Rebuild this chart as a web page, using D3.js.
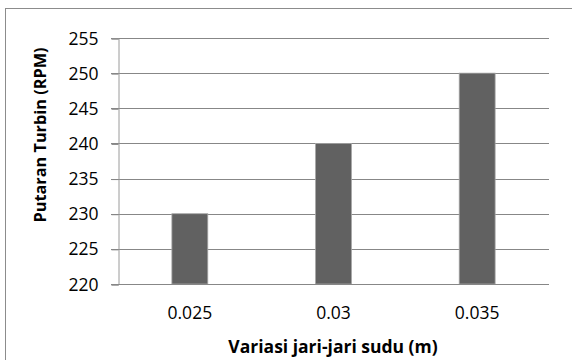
<!DOCTYPE html>
<html><head><meta charset="utf-8">
<script src="https://cdn.jsdelivr.net/npm/d3@7"></script>
<style>
html,body{margin:0;padding:0;background:#fff;}
svg{display:block;}
text{font-family:"Open Sans",sans-serif;fill:#000;}
</style></head>
<body>
<svg id="c" width="572" height="360"></svg>
<script>
const categories = ["0.025", "0.03", "0.035"];
const rpmValues = [230, 240, 250];
const yTicks = [220, 225, 230, 235, 240, 245, 250, 255];
const xTitle = "Variasi jari-jari sudu (m)";
const yTitle = "Putaran Turbin (RPM)";

(function () {
const svg = d3.select("#c");
const pl = 118, pr = 549, pt = 38, pb = 284;

// outer frame
svg.append("rect").attr("x", 5.5).attr("y", 8.5).attr("width", 600).attr("height", 400)
  .attr("fill", "none").attr("stroke", "#8c8c8c").attr("stroke-width", 1);

const x = d3.scaleBand().domain(categories).range([pl, pr]).paddingInner(0).paddingOuter(0);
const y = d3.scaleLinear().domain([220, 255]).range([pb, pt]);

// gridlines
svg.append("g").selectAll("line").data(yTicks.slice(1)).join("line")
  .attr("x1", pl - 7).attr("x2", pr)
  .attr("y1", d => Math.round(y(d)) + 0.5).attr("y2", d => Math.round(y(d)) + 0.5)
  .attr("stroke", "#878787").attr("stroke-width", 1);

// y axis
const yAxis = d3.axisLeft(y).tickValues(yTicks).tickSize(7).tickPadding(13).tickFormat(d3.format("d"));
const gy = svg.append("g").attr("transform", `translate(${pl + 0.5},0.5)`).call(yAxis);
gy.select(".domain").attr("stroke", "#9a9a9a");
gy.selectAll(".tick line").attr("stroke", "#878787");
gy.selectAll(".tick text").attr("font-size", 17.5).attr("font-family", "Open Sans").attr("fill", "#000");

// bars
const bw = x.bandwidth() / 4;
svg.append("g").selectAll("rect").data(rpmValues).join("rect")
  .attr("x", (d, i) => x(categories[i]) + x.bandwidth() / 2 - bw / 2)
  .attr("y", d => y(d))
  .attr("width", bw)
  .attr("height", d => y(220) - y(d))
  .attr("fill", "#616161")
  .attr("stroke", "#a6a6a6").attr("stroke-width", 0.8);

// x axis
const xAxis = d3.axisBottom(x).tickSize(0).tickPadding(22);
const gx = svg.append("g").attr("transform", `translate(0,${Math.round(pb) + 0.5})`).call(xAxis);
gx.select(".domain").attr("stroke", "#878787").attr("d", `M${pl - 7},0H${pr}`);
gx.selectAll(".tick text").attr("font-size", 17.5).attr("font-family", "Open Sans").attr("fill", "#000");

// titles
svg.append("text").attr("x", 333).attr("y", 353).attr("text-anchor", "middle")
  .attr("font-weight", "bold").attr("font-size", 17.5).text(xTitle);
svg.append("text").attr("transform", "translate(46,135) rotate(-90)").attr("text-anchor", "middle")
  .attr("font-weight", "bold").attr("font-size", 16.3).text(yTitle);
})();
</script>
</body></html>
